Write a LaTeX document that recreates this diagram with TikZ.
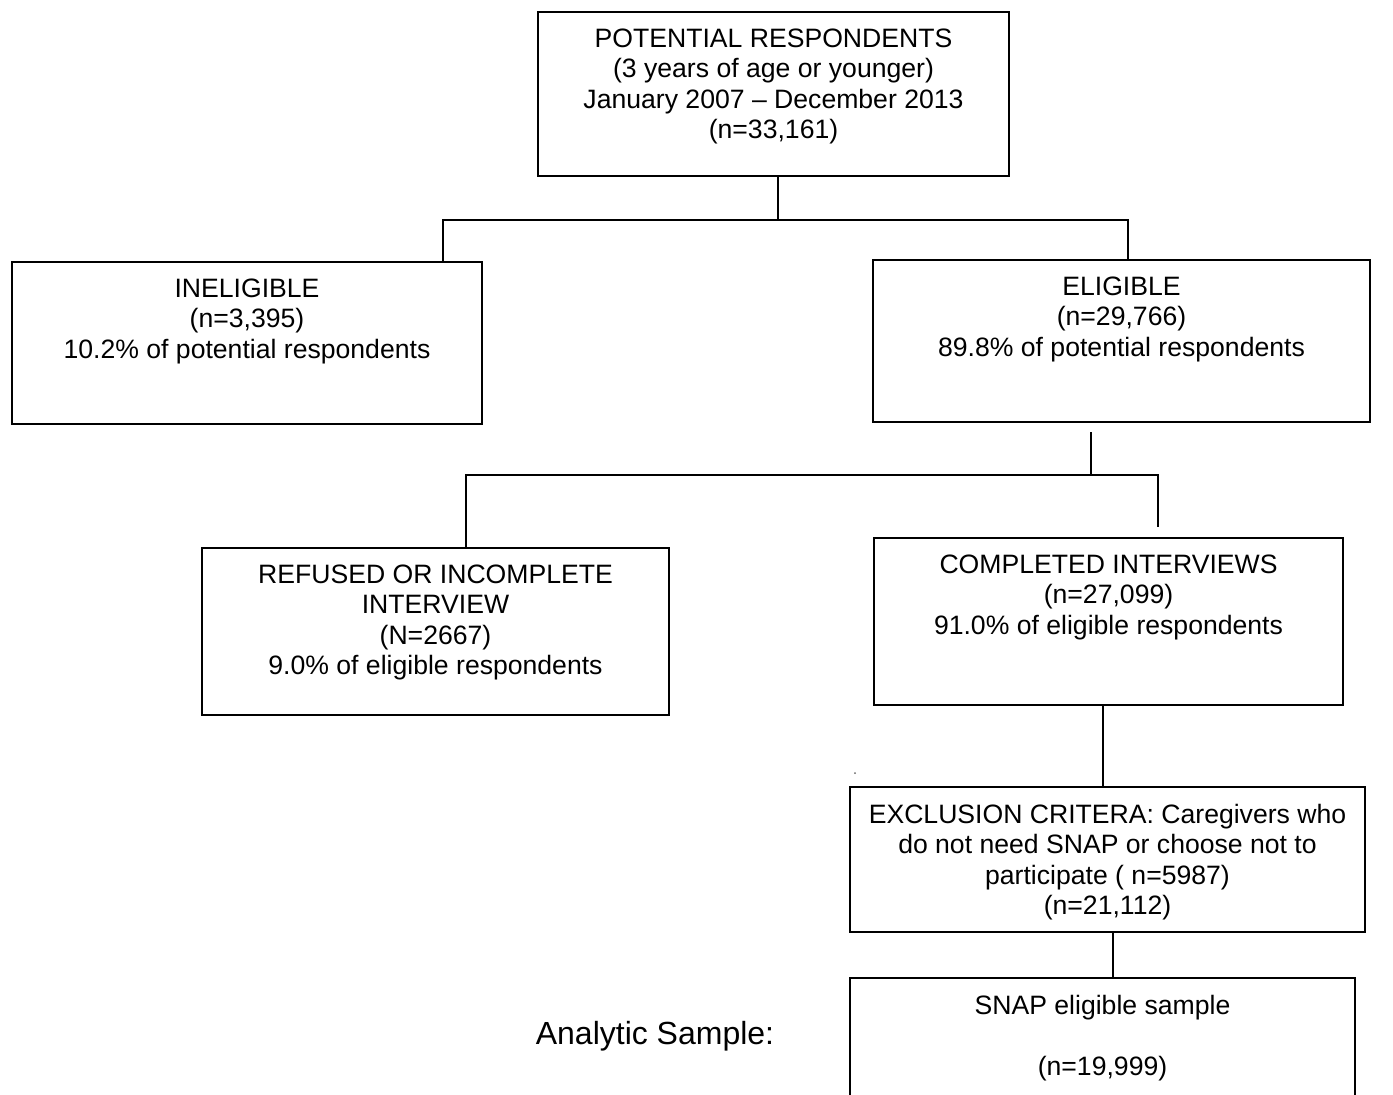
\documentclass[tikz,border=0pt]{standalone}
\usepackage{fontspec}
\setmainfont{Liberation Sans}

\tikzset{
    stage/.style={draw, black, line width=1pt, inner sep=0pt},
    boxtext/.style={below=8.5pt, align=center, inner sep=0pt}
}

\begin{document}
\begin{tikzpicture}[x=0.5pt, y=-0.5pt, line width=1pt, font=\fontsize{13.3}{15.2}\selectfont]
    % 1. Page frame and clipping (the last box runs off the page)
    \useasboundingbox (0,0) rectangle (1393,1094);
    \clip (0,0) rectangle (1393,1094);

    % 2. Boxes of the flow
    \node[stage, minimum width=235.5pt, minimum height=82pt,
        label={[boxtext]north:{POTENTIAL RESPONDENTS\\(3 years of age or younger)\\January 2007 – December 2013\\(n=33,161)}}]
        (pot) at (773.5,94) {};
    \node[stage, minimum width=235pt, minimum height=81pt,
        label={[boxtext]north:{INELIGIBLE\\(n=3,395)\\10.2\% of potential respondents}}]
        (inel) at (247,343) {};
    \node[stage, minimum width=248.5pt, minimum height=81pt,
        label={[boxtext]north:{ELIGIBLE\\(n=29,766)\\89.8\% of potential respondents}}]
        (elig) at (1121.5,341) {};
    \node[stage, minimum width=233.5pt, minimum height=83.5pt,
        label={[boxtext]north:{REFUSED OR INCOMPLETE\\INTERVIEW\\(N=2667)\\9.0\% of eligible respondents}}]
        (refu) at (435.5,631.5) {};
    \node[stage, minimum width=234.5pt, minimum height=83.5pt,
        label={[boxtext]north:{COMPLETED INTERVIEWS\\(n=27,099)\\91.0\% of eligible respondents}}]
        (comp) at (1108.5,621.5) {};
    \node[stage, minimum width=257.5pt, minimum height=72.5pt,
        label={[boxtext]north:{EXCLUSION CRITERA: Caregivers who\\do not need SNAP or choose not to\\participate ( n=5987)\\(n=21,112)}}]
        (excl) at (1107.5,859.5) {};
    \node[stage, minimum width=252.5pt, minimum height=70pt,
        label={[boxtext]north:{SNAP eligible sample\\[15.2pt](n=19,999)}}]
        (snap) at (1102.5,1048) {};

    % 3. Side caption
    \node[font=\fontsize{16}{19}\selectfont] (analytic) at (655,1036) {Analytic Sample:};

    % 4. First split: potential -> ineligible / eligible
    \coordinate (split1) at (778,220);
    \coordinate (left1) at (443,220);
    \coordinate (right1) at (1128,220);
    \draw (split1 |- pot.south) -- (split1);
    \draw (left1 |- inel.north) -- (left1) -- (right1) -- (right1 |- elig.north);

    % 5. Second split: eligible -> refused / completed
    \coordinate (top2) at (1091,432);
    \coordinate (split2) at (1091,475);
    \coordinate (left2) at (466,475);
    \coordinate (right2) at (1158,475);
    \coordinate (end2) at (1158,527);
    \draw (top2) -- (split2);
    \draw (left2 |- refu.north) -- (left2) -- (right2) -- (end2);

    % 6. Straight links further down
    \coordinate (down3) at (1103,0);
    \coordinate (down4) at (1113,0);
    \draw (down3 |- comp.south) -- (down3 |- excl.north);
    \draw[line width=0.6pt] (down4 |- excl.south) -- (down4 |- snap.north);

    % small speck left of the links
    \fill[black!60] (855,773) circle (1);
\end{tikzpicture}
\end{document}
